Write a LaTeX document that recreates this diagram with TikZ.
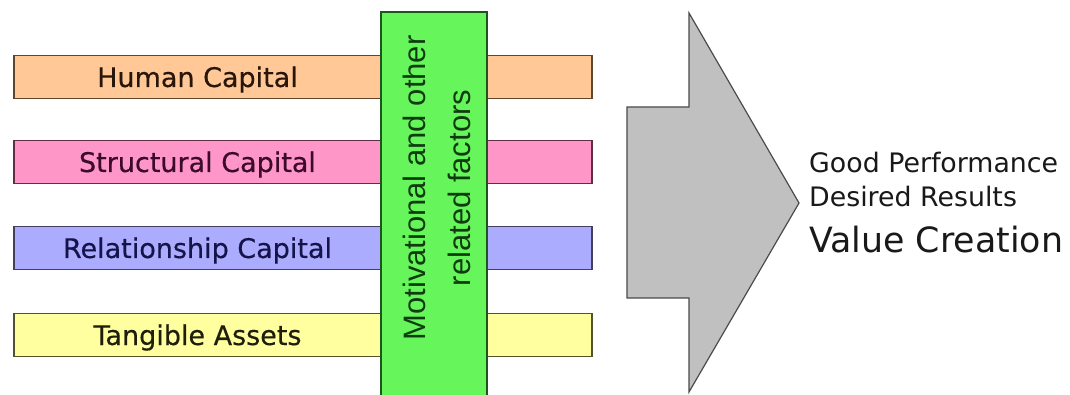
\documentclass[tikz,border=0pt]{standalone}
\usepackage{fontspec}
\setmainfont{DejaVu Sans}
\newfontfamily\barfont[FakeBold=0.4]{DejaVu Sans}
\newfontfamily\resfont{DejaVu Sans}
\newfontfamily\sidefont{Liberation Sans}
\definecolor{humanfill}{RGB}{255,200,150}
\definecolor{humanline}{RGB}{95,70,45}
\definecolor{humantext}{RGB}{40,22,10}
\definecolor{structfill}{RGB}{255,150,200}
\definecolor{structline}{RGB}{95,45,70}
\definecolor{structtext}{RGB}{60,10,45}
\definecolor{relfill}{RGB}{172,172,255}
\definecolor{relline}{RGB}{65,65,95}
\definecolor{reltext}{RGB}{20,20,75}
\definecolor{tangfill}{RGB}{255,255,160}
\definecolor{tangline}{RGB}{85,80,45}
\definecolor{tangtext}{RGB}{30,30,10}
\definecolor{motfill}{RGB}{102,245,90}
\definecolor{motline}{RGB}{30,85,30}
\definecolor{mottext}{RGB}{15,60,15}
\definecolor{arrowfill}{RGB}{192,192,192}
\definecolor{arrowline}{RGB}{75,75,75}
\definecolor{resulttext}{RGB}{25,25,25}
\tikzset{
  capbar/.style={draw=#1line, fill=#1fill, line width=1.8pt, minimum width=578pt,
    minimum height=43pt, inner sep=0pt, outer sep=0pt},
  caplabel/.style={font=\barfont\fontsize{27}{30}\selectfont, text=#1text,
    anchor=base, inner sep=0pt},
  result/.style={font=\resfont\fontsize{#1}{#1}\selectfont, text=resulttext,
    anchor=base west, inner sep=0pt}
}
\begin{document}
\begin{tikzpicture}[x=1pt, y=-1pt]
  \useasboundingbox (0,0) rectangle (1070,395);
  \clip (0,0) rectangle (1070,395);
  \fill[white] (0,0) rectangle (1070,395);

  % four capital bars, each spanning behind the factor column
  \node[capbar=human]  (hc) at (303,77)  {};
  \node[capbar=struct] (sc) at (303,162) {};
  \node[capbar=rel]    (rc) at (303,248) {};
  \node[capbar=tang]   (ta) at (303,335) {};

  \node[caplabel=human]  (hcl) at (197.5,87)  {Human Capital};
  \node[caplabel=struct] (scl) at (197.5,172) {Structural Capital};
  \node[caplabel=rel]    (rcl) at (197.5,258) {Relationship Capital};
  \node[caplabel=tang]   (tal) at (197.5,345) {Tangible Assets};

  % vertical column of motivational factors laid over the bars
  \node[draw=motline, fill=motfill, line width=1.6pt, minimum width=106pt,
        minimum height=400pt, inner sep=0pt, outer sep=0pt, anchor=north west]
        (mf) at (381,12) {};
  \node[rotate=90, align=center, text=mottext, inner sep=0pt,
        font=\sidefont\fontsize{31}{45}\selectfont]
        (mft) at (437,188) {Motivational and other\\related factors};

  % block arrow pointing to the outcomes
  \coordinate (a1) at (627,107);
  \coordinate (a2) at (689,107);
  \coordinate (a3) at (689,13);
  \coordinate (tip) at (799,203);
  \coordinate (a5) at (689,392);
  \coordinate (a6) at (689,298);
  \coordinate (a7) at (627,298);
  \filldraw[fill=arrowfill, draw=arrowline, line width=1.2pt, line join=miter]
    (a1) -- (a2) -- (a3) -- (tip) -- (a5) -- (a6) -- (a7) -- cycle;

  % outcomes
  \node[result=26.8] (gp) at (809,173) {Good Performance};
  \node[result=26.8] (dr) at (809,207) {Desired Results};
  \node[result=34.8] (vc) at (809,252) {Value Creation};
\end{tikzpicture}
\end{document}
